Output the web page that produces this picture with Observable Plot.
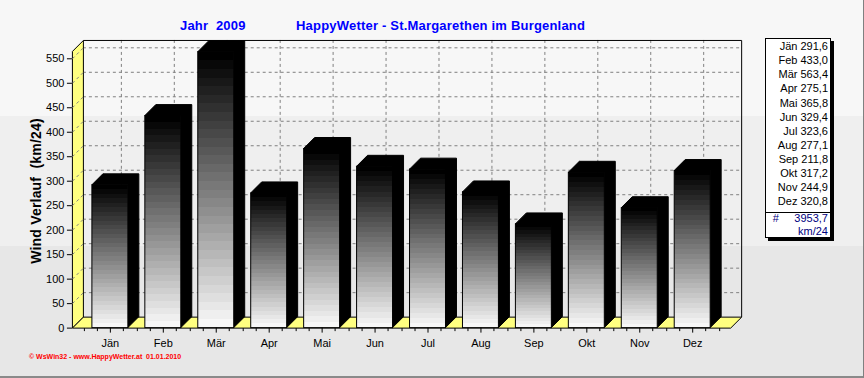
<!DOCTYPE html>
<html lang="de">
<head>
<meta charset="utf-8">
<script src="https://cdn.jsdelivr.net/npm/d3@7"></script>
<script src="https://cdn.jsdelivr.net/npm/@observablehq/plot@0.6"></script>
<style>
html,body{margin:0;padding:0;background:#fff;}
#chart{position:relative;width:864px;height:378px;overflow:hidden;box-sizing:border-box;
  border-right:1px solid #808080;border-bottom:2px solid #8a8a8a;
  background:linear-gradient(to bottom,#f7f7f7 0px,#f7f7f7 116px,#efefef 116px,#efefef 246px,#e7e7e7 246px,#e7e7e7 400px);
  font-family:"Liberation Sans",Arial,sans-serif;color:#000;}
#chart svg{position:absolute;left:0;top:0;}
.title{position:absolute;top:17.5px;font-weight:bold;font-size:13px;line-height:15px;color:#0000ff;white-space:pre;letter-spacing:0.2px;}
.ylabel{position:absolute;left:36px;top:191px;transform:translate(-50%,-50%) rotate(-90deg);font-weight:bold;font-size:14px;white-space:pre;color:#000;letter-spacing:0.2px;}
.credit{position:absolute;left:29px;top:352px;font-size:7px;font-weight:bold;line-height:9px;color:#ff0000;white-space:pre;letter-spacing:0px;}
.legend{position:absolute;left:765px;top:38px;width:66px;height:200px;box-sizing:border-box;border:1px solid #000;background:#fff;box-shadow:3px 3px 0 #000;font-size:11px;}
.lrow{position:absolute;right:2px;line-height:14px;white-space:pre;}
.lsep{position:absolute;left:0;right:0;top:173px;height:1px;background:#000;}
.navy{color:#000080;}
</style>
</head>
<body>
<div id="chart"></div>
<script>
// ---- data ----
const months = ["Jän","Feb","Mär","Apr","Mai","Jun","Jul","Aug","Sep","Okt","Nov","Dez"];
const values = [291.6, 433.0, 563.4, 275.1, 365.8, 329.4, 323.6, 277.1, 211.8, 317.2, 244.9, 320.8];
const yTicks = [0, 50, 100, 150, 200, 250, 300, 350, 400, 450, 500, 550];
const yMax = 565;
const titleYear = "Jahr  2009";
const titleMain = "HappyWetter - St.Margarethen im Burgenland";
const yLabel = "Wind Verlauf  (km/24)";
const totalSymbol = "#";
const unitLabel = "km/24";
const credit = "© WsWin32 - www.HappyWetter.at  01.01.2010";

const data = months.map((month, i) => ({month, value: values[i]}));
const D = 11; // 3D depth in px
const fmt = v => v.toFixed(1).replace(".", ",");

function bw(x) { return typeof x.bandwidth === "function" ? x.bandwidth() : x.bandwidth; }
function st(x) { return typeof x.step === "function" ? x.step() : x.step; }

// walls, floor, diagonal grid on side wall, minor x ticks
function decor(index, scales) {
  const x = scales.x, y = scales.y;
  const [xa, xb] = x.range();
  const y0 = y(0), yt = y(y.domain()[1]);
  const g = d3.create("svg:g").attr("transform", "translate(0.5,0.5)");
  g.append("path").attr("d", `M${xa + D},${yt - D}H${xb + D}V${y0 - D}`)
    .attr("fill", "none").attr("stroke", "#000");
  g.append("path").attr("d", `M${xa},${y0}V${yt}L${xa + D},${yt - D}V${y0 - D}Z`)
    .attr("fill", "#ffff80").attr("stroke", "#000");
  g.selectAll("line.diag").data(yTicks.filter(t => t > 0)).join("line")
    .attr("x1", xa).attr("y1", t => y(t)).attr("x2", xa + D).attr("y2", t => y(t) - D)
    .attr("stroke", "#808080").attr("stroke-dasharray", "3,3");
  g.append("path").attr("d", `M${xa},${y0}H${xb}L${xb + D},${y0 - D}H${xa + D}Z`)
    .attr("fill", "#ffff80").attr("stroke", "#000");
  const step = st(x), w = bw(x);
  const minor = [];
  months.forEach((m, i) => {
    const c = x(m) + w / 2;
    minor.push(c - step / 2, c - step / 4, c + step / 4);
    if (i === months.length - 1) minor.push(c + step / 2);
  });
  g.selectAll("line.mt").data(minor).join("line")
    .attr("x1", d => Math.round(d)).attr("x2", d => Math.round(d))
    .attr("y1", y0).attr("y2", y0 + 3).attr("stroke", "#000");
  return g.node();
}

// top + side faces of each bar
function sideTop(index, scales) {
  const x = scales.x, y = scales.y;
  const w = bw(x);
  const g = d3.create("svg:g");
  for (const i of index) {
    const d = data[i];
    const xl = x(d.month), xr = xl + w, yt = y(d.value), yb = y(0);
    g.append("path")
      .attr("d", `M${xl},${yt}L${xl + D},${yt - D}H${xr + D}V${yb - D}L${xr},${yb}V${yt}Z`)
      .attr("fill", "#000").attr("stroke", "#000");
  }
  return g.node();
}

const plot = Plot.plot({
  width: 864, height: 378,
  marginLeft: 72, marginRight: 133, marginTop: 51, marginBottom: 50,
  style: {background: "transparent", fontFamily: "'Liberation Sans', Arial, sans-serif", fontSize: "11px", color: "#000", overflow: "visible"},
  x: {domain: months, paddingInner: 0.324, paddingOuter: 0.337},
  y: {domain: [0, yMax]},
  marks: [
    Plot.ruleX(months, {dx: D, dy: -D, stroke: "#808080", strokeDasharray: "3,3"}),
    Plot.ruleY(yTicks.filter(t => t > 0), {dx: D, dy: -D, stroke: "#808080", strokeDasharray: "3,3"}),
    Plot.frame({stroke: "none", render: decor}),
    Plot.barY(data, {x: "month", y: "value", render: sideTop}),
    Plot.barY(data, {x: "month", y: "value", fill: "url(#barGrad)", stroke: "#000"}),
    Plot.axisY({ticks: yTicks, tickSize: 5, tickPadding: 3, label: null}),
    Plot.axisX({tickSize: 5, tickPadding: 6, label: null})
  ]
});

// stepped vertical gradient for the bar fronts
const N = 32;
const grad = d3.select(plot).insert("defs", ":first-child")
  .append("linearGradient").attr("id", "barGrad")
  .attr("x1", 0).attr("y1", 0).attr("x2", 0).attr("y2", 1);
for (let k = 0; k < N; k++) {
  const l = Math.round(k * 247 / (N - 1));
  const c = `rgb(${l},${l},${l})`;
  grad.append("stop").attr("offset", k / N).attr("stop-color", c);
  grad.append("stop").attr("offset", (k + 1) / N).attr("stop-color", c);
}

const chart = document.getElementById("chart");
chart.append(plot);

function addDiv(cls, text, style) {
  const el = document.createElement("div");
  el.className = cls;
  el.textContent = text;
  Object.assign(el.style, style || {});
  return el;
}
chart.append(addDiv("title", titleYear, {left: "180px"}));
chart.append(addDiv("title", titleMain, {left: "296px"}));
chart.append(addDiv("ylabel", yLabel));
chart.append(addDiv("credit", credit));

const legend = addDiv("legend", "");
months.forEach((m, i) => {
  legend.append(addDiv("lrow", `${m} ${fmt(values[i])}`, {top: (0.2 + 14.09 * i) + "px"}));
});
legend.append(addDiv("lsep", ""));
legend.append(addDiv("lrow navy", totalSymbol, {top: "171.9px", left: "6.7px", right: "auto"}));
legend.append(addDiv("lrow navy", fmt(d3.sum(values)), {top: "171.9px"}));
legend.append(addDiv("lrow navy", unitLabel, {top: "185.2px"}));
chart.append(legend);
</script>
</body>
</html>
